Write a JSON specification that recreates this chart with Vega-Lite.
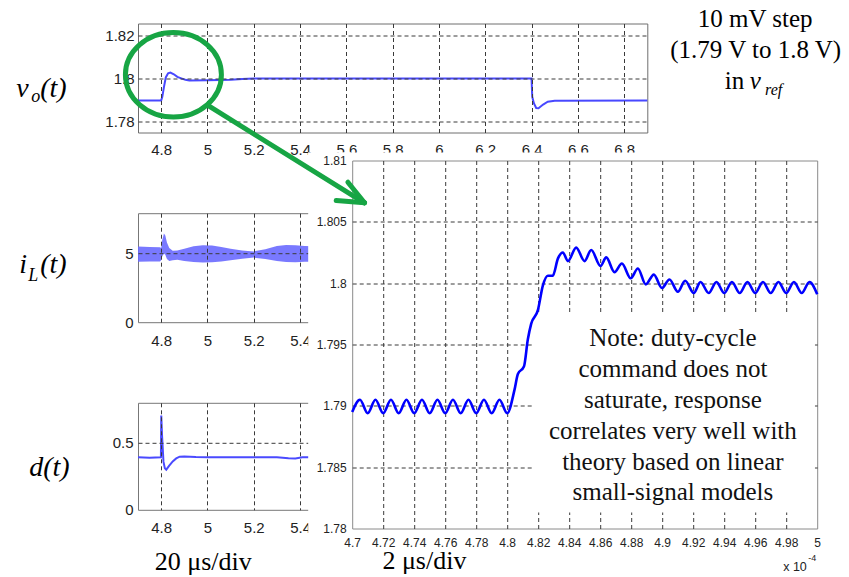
{
"$schema": "https://vega.github.io/schema/vega-lite/v6.json",
"padding": {"left": 15, "top": 6.5, "right": 0, "bottom": 0},
"autosize": {"type": "pad"},
"background": "white",
"config": {
  "view": {"stroke": "#777777", "strokeWidth": 1},
  "axis": {"labelFont": "Liberation Sans", "labelColor": "#222222", "gridColor": "#3a3a3a", "gridDash": [4, 3], "gridWidth": 1, "gridOpacity": 1, "labelFlush": false, "labelOverlap": false, "ticks": false, "domain": false}
},
"datasets": {
  "vo": [
    {"t":4.70,"v":1.7898},{"t":4.80,"v":1.7898},{"t":4.805,"v":1.7915},{"t":4.812,"v":1.7960},{"t":4.820,"v":1.8005},{"t":4.830,"v":1.8024},{"t":4.840,"v":1.8028},{"t":4.855,"v":1.8020},{"t":4.870,"v":1.8008},{"t":4.887,"v":1.8001},{"t":4.905,"v":1.7994},{"t":4.922,"v":1.7991},{"t":5.000,"v":1.7992},{"t":5.100,"v":1.7994},{"t":5.150,"v":1.7998},{"t":5.200,"v":1.8000},{"t":6.400,"v":1.8000},{"t":6.403,"v":1.7915},{"t":6.410,"v":1.7885},{"t":6.420,"v":1.7863},{"t":6.430,"v":1.7862},{"t":6.450,"v":1.7879},{"t":6.470,"v":1.7892},{"t":6.500,"v":1.7897},{"t":6.900,"v":1.7898}
  ],
  "il": [
    {"t":4.700,"lo":4.40,"hi":5.50},{"t":4.750,"lo":4.42,"hi":5.48},{"t":4.795,"lo":4.42,"hi":5.45},{"t":4.800,"lo":4.50,"hi":5.40},{"t":4.805,"lo":4.80,"hi":6.00},{"t":4.812,"lo":5.00,"hi":6.45},{"t":4.818,"lo":4.90,"hi":6.30},{"t":4.825,"lo":4.60,"hi":5.80},{"t":4.835,"lo":4.45,"hi":5.40},{"t":4.850,"lo":4.50,"hi":5.20},{"t":4.870,"lo":4.55,"hi":5.22},{"t":4.900,"lo":4.45,"hi":5.35},{"t":4.940,"lo":4.38,"hi":5.52},{"t":4.980,"lo":4.35,"hi":5.60},{"t":5.020,"lo":4.37,"hi":5.58},{"t":5.060,"lo":4.42,"hi":5.48},{"t":5.100,"lo":4.50,"hi":5.35},{"t":5.150,"lo":4.62,"hi":5.22},{"t":5.200,"lo":4.70,"hi":5.15},{"t":5.250,"lo":4.60,"hi":5.30},{"t":5.300,"lo":4.45,"hi":5.55},{"t":5.340,"lo":4.38,"hi":5.62},{"t":5.380,"lo":4.37,"hi":5.60},{"t":5.420,"lo":4.40,"hi":5.55},{"t":5.500,"lo":4.40,"hi":5.50}
  ],
  "dd": [
    {"t":4.700,"d":0.392},{"t":4.750,"d":0.390},{"t":4.799,"d":0.392},{"t":4.8005,"d":0.705},{"t":4.804,"d":0.55},{"t":4.810,"d":0.36},{"t":4.816,"d":0.31},{"t":4.822,"d":0.300},{"t":4.835,"d":0.330},{"t":4.850,"d":0.362},{"t":4.865,"d":0.384},{"t":4.880,"d":0.397},{"t":4.900,"d":0.398},{"t":4.950,"d":0.394},{"t":5.000,"d":0.392},{"t":5.100,"d":0.393},{"t":5.200,"d":0.392},{"t":5.300,"d":0.393},{"t":5.350,"d":0.386},{"t":5.380,"d":0.384},{"t":5.410,"d":0.392},{"t":5.500,"d":0.392}
  ],
  "vz": [
    {"t":4.700,"v":1.7895},{"t":4.705,"v":1.7905},{"t":4.710,"v":1.7894},{"t":4.715,"v":1.7905},{"t":4.720,"v":1.7894},{"t":4.725,"v":1.7905},{"t":4.730,"v":1.7894},{"t":4.735,"v":1.7905},{"t":4.740,"v":1.7894},{"t":4.745,"v":1.7905},{"t":4.750,"v":1.7894},{"t":4.755,"v":1.7905},{"t":4.760,"v":1.7894},{"t":4.765,"v":1.7905},{"t":4.770,"v":1.7894},{"t":4.775,"v":1.7905},{"t":4.780,"v":1.7894},{"t":4.785,"v":1.7905},{"t":4.790,"v":1.7894},{"t":4.795,"v":1.7905},{"t":4.800,"v":1.7894},
    {"t":4.8047,"v":1.7913},{"t":4.8069,"v":1.7926},{"t":4.8108,"v":1.7932},{"t":4.8133,"v":1.7954},{"t":4.8155,"v":1.7967},{"t":4.8198,"v":1.7978},{"t":4.8230,"v":1.7998},{"t":4.8262,"v":1.8006},{"t":4.8294,"v":1.8006},{"t":4.8327,"v":1.8020},{"t":4.8359,"v":1.8025},{"t":4.8392,"v":1.8018},{"t":4.8445,"v":1.8029},{"t":4.8499,"v":1.8018},{"t":4.8542,"v":1.8027},{"t":4.8602,"v":1.8014},{"t":4.8639,"v":1.8021},{"t":4.8692,"v":1.8009},{"t":4.8740,"v":1.8016},{"t":4.8797,"v":1.8004},{"t":4.8843,"v":1.8012},{"t":4.8894,"v":1.7999},{"t":4.8946,"v":1.8007},{"t":4.8998,"v":1.7996},{"t":4.9047,"v":1.8003},{"t":4.9101,"v":1.7993},{"t":4.9148,"v":1.8002},{"t":4.9204,"v":1.7992},{"t":4.9247,"v":1.8001},{"t":4.9300,"v":1.7992},{"t":4.9350,"v":1.8001},{"t":4.9400,"v":1.7992},{"t":4.9450,"v":1.8001},{"t":4.9500,"v":1.7992},{"t":4.9550,"v":1.8001},{"t":4.9600,"v":1.7992},{"t":4.9650,"v":1.8001},{"t":4.9700,"v":1.7992},{"t":4.9750,"v":1.8001},{"t":4.9800,"v":1.7992},{"t":4.9850,"v":1.8001},{"t":4.9900,"v":1.7992},{"t":4.9950,"v":1.8001},{"t":5.0000,"v":1.7991}
  ]
},
"vconcat": [
  {
    "width": 509.3, "height": 109,
    "view": {"stroke": "#6e6e6e"},
    "layer": [
      {"data": {"name": "vo"}, "mark": {"type": "line", "color": "#4848ff", "strokeWidth": 2},
       "encoding": {
         "x": {"field": "t", "type": "quantitative", "scale": {"domain": [4.7, 6.9], "nice": false, "zero": false},
               "axis": {"orient": "bottom", "values": [4.8, 5, 5.2, 5.4, 5.6, 5.8, 6, 6.2, 6.4, 6.6, 6.8], "format": ".1~f", "title": null, "grid": true, "labelFontSize": 15, "labelPadding": 10, "zindex": 1}},
         "y": {"field": "v", "type": "quantitative", "scale": {"domain": [1.7749, 1.8256], "nice": false, "zero": false},
               "axis": {"orient": "left", "values": [1.78, 1.8, 1.82], "format": ".2~f", "title": null, "grid": true, "labelFontSize": 15, "labelPadding": 4, "zindex": 1}}
       }},
      {"data": {"values": [{"t": 4.1739, "v": 1.79163, "s": "v"}, {"t": 4.2775, "v": 1.79163, "s": "(t)"}]},
       "mark": {"type": "text", "font": "Liberation Serif", "fontStyle": "italic", "fontSize": 28, "align": "left", "baseline": "alphabetic", "color": "black"},
       "encoding": {"x": {"field": "t", "type": "quantitative", "axis": null, "scale": {"domain": [4.7, 6.9], "nice": false, "zero": false}}, "y": {"field": "v", "type": "quantitative", "axis": null, "scale": {"domain": [1.7749, 1.8256], "nice": false, "zero": false}}, "text": {"field": "s"}}},
      {"data": {"values": [{"t": 4.2387, "v": 1.7893, "s": "o"}]},
       "mark": {"type": "text", "font": "Liberation Serif", "fontStyle": "italic", "fontSize": 18, "align": "left", "baseline": "alphabetic", "color": "black"},
       "encoding": {"x": {"field": "t", "type": "quantitative", "axis": null, "scale": {"domain": [4.7, 6.9], "nice": false, "zero": false}}, "y": {"field": "v", "type": "quantitative", "axis": null, "scale": {"domain": [1.7749, 1.8256], "nice": false, "zero": false}}, "text": {"field": "s"}}},
      {"data": {"values": [{"t": 7.3661, "v": 1.82395, "s": "10 mV step"}, {"t": 7.3683, "v": 1.80977, "s": "(1.79 V to 1.8 V)"}, {"t": 7.2763, "v": 1.79512, "s": "in"}]},
       "mark": {"type": "text", "font": "Liberation Serif", "fontSize": 25, "align": "center", "baseline": "alphabetic", "color": "black"},
       "encoding": {"x": {"field": "t", "type": "quantitative", "axis": null, "scale": {"domain": [4.7, 6.9], "nice": false, "zero": false}}, "y": {"field": "v", "type": "quantitative", "axis": null, "scale": {"domain": [1.7749, 1.8256], "nice": false, "zero": false}}, "text": {"field": "s"}}},
      {"data": {"values": [{"t": 7.3662, "v": 1.79512, "s": "v"}]},
       "mark": {"type": "text", "font": "Liberation Serif", "fontStyle": "italic", "fontSize": 25, "align": "center", "baseline": "alphabetic", "color": "black"},
       "encoding": {"x": {"field": "t", "type": "quantitative", "axis": null, "scale": {"domain": [4.7, 6.9], "nice": false, "zero": false}}, "y": {"field": "v", "type": "quantitative", "axis": null, "scale": {"domain": [1.7749, 1.8256], "nice": false, "zero": false}}, "text": {"field": "s"}}},
      {"data": {"values": [{"t": 7.4460, "v": 1.79256, "s": "ref"}]},
       "mark": {"type": "text", "font": "Liberation Serif", "fontStyle": "italic", "fontSize": 16, "align": "center", "baseline": "alphabetic", "color": "black"},
       "encoding": {"x": {"field": "t", "type": "quantitative", "axis": null, "scale": {"domain": [4.7, 6.9], "nice": false, "zero": false}}, "y": {"field": "v", "type": "quantitative", "axis": null, "scale": {"domain": [1.7749, 1.8256], "nice": false, "zero": false}}, "text": {"field": "s"}}}
    ],
    "resolve": {"axis": {"x": "independent", "y": "independent"}}
  },
  {
    "hconcat": [
      {
        "vconcat": [
          {"width": 185.2, "height": 1, "view": {"stroke": null}, "data": {"values": []}, "mark": "point"},
          {
            "vconcat": [
              {
                "width": 185.2, "height": 109,
                "layer": [
                  {"data": {"name": "il"}, "mark": {"type": "area", "color": "#6a6aff", "opacity": 0.9},
                   "encoding": {
                     "x": {"field": "t", "type": "quantitative", "scale": {"domain": [4.7, 5.5], "nice": false, "zero": false},
                           "axis": {"orient": "bottom", "values": [4.8, 5, 5.2, 5.4], "format": ".1~f", "title": null, "grid": true, "labelFontSize": 15, "labelPadding": 11, "zindex": 1}},
                     "y": {"field": "lo", "type": "quantitative", "scale": {"domain": [0, 7.93], "nice": false, "zero": false},
                           "axis": {"orient": "left", "values": [0, 5], "format": "d", "title": null, "grid": true, "gridColor": {"condition": {"test": "datum.value == 0", "value": "transparent"}, "value": "#3a3a3a"}, "labelFontSize": 15, "labelPadding": 5, "zindex": 1}},
                     "y2": {"field": "hi"}
                   }},
                  {"data": {"values": [{"t": 4.1868, "y": 3.544, "s": "i"}, {"t": 4.2775, "y": 3.544, "s": "(t)"}]},
                   "mark": {"type": "text", "font": "Liberation Serif", "fontStyle": "italic", "fontSize": 28, "align": "left", "baseline": "alphabetic", "color": "black"},
                   "encoding": {"x": {"field": "t", "type": "quantitative", "axis": null, "scale": {"domain": [4.7, 5.5], "nice": false, "zero": false}}, "y": {"field": "y", "type": "quantitative", "axis": null, "scale": {"domain": [0, 7.93], "nice": false, "zero": false}}, "text": {"field": "s"}}},
                  {"data": {"values": [{"t": 4.2257, "y": 2.962, "s": "L"}]},
                   "mark": {"type": "text", "font": "Liberation Serif", "fontStyle": "italic", "fontSize": 18, "align": "left", "baseline": "alphabetic", "color": "black"},
                   "encoding": {"x": {"field": "t", "type": "quantitative", "axis": null, "scale": {"domain": [4.7, 5.5], "nice": false, "zero": false}}, "y": {"field": "y", "type": "quantitative", "axis": null, "scale": {"domain": [0, 7.93], "nice": false, "zero": false}}, "text": {"field": "s"}}}
                ],
                "resolve": {"axis": {"x": "independent", "y": "independent"}}
              },
              {
                "width": 185.2, "height": 107,
                "layer": [
                  {"data": {"name": "dd"}, "mark": {"type": "line", "color": "#4a4aff", "strokeWidth": 2},
                   "encoding": {
                     "x": {"field": "t", "type": "quantitative", "scale": {"domain": [4.7, 5.5], "nice": false, "zero": false},
                           "axis": {"orient": "bottom", "values": [4.8, 5, 5.2, 5.4], "format": ".1~f", "title": null, "grid": true, "labelFontSize": 15, "labelPadding": 11, "zindex": 1}},
                     "y": {"field": "d", "type": "quantitative", "scale": {"domain": [0, 0.8], "nice": false, "zero": false},
                           "axis": {"orient": "left", "values": [0, 0.5], "format": ".1~f", "title": null, "grid": true, "gridColor": {"condition": {"test": "datum.value == 0", "value": "transparent"}, "value": "#3a3a3a"}, "labelFontSize": 15, "labelPadding": 5, "zindex": 1}}
                   }},
                  {"data": {"values": [{"t": 4.23, "y": 0.2564, "s": "d(t)"}]},
                   "mark": {"type": "text", "font": "Liberation Serif", "fontStyle": "italic", "fontSize": 28, "align": "left", "baseline": "alphabetic", "color": "black"},
                   "encoding": {"x": {"field": "t", "type": "quantitative", "axis": null, "scale": {"domain": [4.7, 5.5], "nice": false, "zero": false}}, "y": {"field": "y", "type": "quantitative", "axis": null, "scale": {"domain": [0, 0.8], "nice": false, "zero": false}}, "text": {"field": "s"}}},
                  {"data": {"values": [{"t": 4.9816, "y": -0.4464, "s": "20 μs/div"}]},
                   "mark": {"type": "text", "font": "Liberation Serif", "fontSize": 26, "align": "center", "baseline": "alphabetic", "color": "black"},
                   "encoding": {"x": {"field": "t", "type": "quantitative", "axis": null, "scale": {"domain": [4.7, 5.5], "nice": false, "zero": false}}, "y": {"field": "y", "type": "quantitative", "axis": null, "scale": {"domain": [0, 0.8], "nice": false, "zero": false}}, "text": {"field": "s"}}}
                ],
                "resolve": {"axis": {"x": "independent", "y": "independent"}}
              }
            ],
            "spacing": 80.6, "bounds": "flush"
          }
        ],
        "spacing": 51.7, "bounds": "flush"
      },
      {
        "width": 465, "height": 368,
        "view": {"stroke": "#8a8a8a"},
        "layer": [
          {"data": {"values": [{"x1": 4.6716, "x2": 5.0, "y1": 1.8101, "y2": 1.81065}, {"x1": 4.6716, "x2": 4.6995, "y1": 1.7763, "y2": 1.81065}]},
           "mark": {"type": "rect", "color": "white"},
           "encoding": {
             "x": {"field": "x1", "type": "quantitative", "scale": {"domain": [4.7, 5.0], "nice": false, "zero": false},
                   "axis": {"orient": "bottom", "values": [4.72, 4.74, 4.76, 4.78, 4.8, 4.82, 4.84, 4.86, 4.88, 4.9, 4.92, 4.94, 4.96, 4.98], "grid": true, "labels": false, "title": null, "zindex": 0}},
             "x2": {"field": "x2"},
             "y": {"field": "y1", "type": "quantitative", "scale": {"domain": [1.78, 1.81], "nice": false, "zero": false},
                   "axis": {"orient": "left", "values": [1.785, 1.79, 1.795, 1.8, 1.805], "grid": true, "labels": false, "title": null, "zindex": 0}},
             "y2": {"field": "y2"}
           }},
          {"data": {"values": [{"x1": 4.8168, "x2": 4.9985, "y1": 1.7813, "y2": 1.79747}]},
           "mark": {"type": "rect", "color": "white"},
           "encoding": {
             "x": {"field": "x1", "type": "quantitative", "axis": null, "scale": {"domain": [4.7, 5.0], "nice": false, "zero": false}},
             "x2": {"field": "x2"},
             "y": {"field": "y1", "type": "quantitative", "axis": null, "scale": {"domain": [1.78, 1.81], "nice": false, "zero": false}},
             "y2": {"field": "y2"}
           }},
          {"data": {"name": "vz"}, "mark": {"type": "line", "color": "#0000ff", "strokeWidth": 2.6, "interpolate": "monotone"},
           "encoding": {
             "x": {"field": "t", "type": "quantitative", "scale": {"domain": [4.7, 5.0], "nice": false, "zero": false},
                   "axis": {"orient": "bottom", "values": [4.7, 4.72, 4.74, 4.76, 4.78, 4.8, 4.82, 4.84, 4.86, 4.88, 4.9, 4.92, 4.94, 4.96, 4.98, 5], "format": ".2~f", "grid": false, "title": null, "labelFontSize": 12, "labelPadding": 8.5, "zindex": 1}},
             "y": {"field": "v", "type": "quantitative", "scale": {"domain": [1.78, 1.81], "nice": false, "zero": false},
                   "axis": {"orient": "left", "values": [1.78, 1.785, 1.79, 1.795, 1.8, 1.805, 1.81], "format": ".3~f", "grid": false, "title": null, "labelFontSize": 12, "labelPadding": 6, "zindex": 1}}
           }},
          {"data": {"values": [{"t": 4.9069, "y": 1.794837, "s": "Note: duty-cycle\ncommand does not\nsaturate, response\ncorrelates very well with\ntheory based on linear\nsmall-signal models"}]},
           "mark": {"type": "text", "font": "Liberation Serif", "fontSize": 25, "align": "center", "baseline": "alphabetic", "lineBreak": "\n", "lineHeight": 30.8, "color": "#111111"},
           "encoding": {"x": {"field": "t", "type": "quantitative", "axis": null, "scale": {"domain": [4.7, 5.0], "nice": false, "zero": false}}, "y": {"field": "y", "type": "quantitative", "axis": null, "scale": {"domain": [1.78, 1.81], "nice": false, "zero": false}}, "text": {"field": "s"}}},
          {"data": {"values": [{"t": 4.7466, "y": 1.77666, "s": "2 μs/div"}]},
           "mark": {"type": "text", "font": "Liberation Serif", "fontSize": 26, "align": "center", "baseline": "alphabetic", "color": "black"},
           "encoding": {"x": {"field": "t", "type": "quantitative", "axis": null, "scale": {"domain": [4.7, 5.0], "nice": false, "zero": false}}, "y": {"field": "y", "type": "quantitative", "axis": null, "scale": {"domain": [1.78, 1.81], "nice": false, "zero": false}}, "text": {"field": "s"}}},
          {"data": {"values": [{"t": 4.97806, "y": 1.776495, "s": "x 10"}]},
           "mark": {"type": "text", "font": "Liberation Sans", "fontSize": 12.5, "align": "left", "baseline": "alphabetic", "color": "#222222"},
           "encoding": {"x": {"field": "t", "type": "quantitative", "axis": null, "scale": {"domain": [4.7, 5.0], "nice": false, "zero": false}}, "y": {"field": "y", "type": "quantitative", "axis": null, "scale": {"domain": [1.78, 1.81], "nice": false, "zero": false}}, "text": {"field": "s"}}},
          {"data": {"values": [{"t": 4.99419, "y": 1.77731, "s": "-4"}]},
           "mark": {"type": "text", "font": "Liberation Sans", "fontSize": 9, "align": "left", "baseline": "alphabetic", "color": "#222222"},
           "encoding": {"x": {"field": "t", "type": "quantitative", "axis": null, "scale": {"domain": [4.7, 5.0], "nice": false, "zero": false}}, "y": {"field": "y", "type": "quantitative", "axis": null, "scale": {"domain": [1.78, 1.81], "nice": false, "zero": false}}, "text": {"field": "s"}}},
          {"data": {"values": [{"t": 4.58465, "y": 1.816995}]},
           "mark": {"type": "point", "shape": "M -1 0 A 1 0.88 0 1 0 1 0 A 1 0.88 0 1 0 -1 0 Z", "size": 9216, "filled": false, "stroke": "#17a544", "strokeWidth": 5, "opacity": 1},
           "encoding": {"x": {"field": "t", "type": "quantitative", "axis": null, "scale": {"domain": [4.7, 5.0], "nice": false, "zero": false}}, "y": {"field": "y", "type": "quantitative", "axis": null, "scale": {"domain": [1.78, 1.81], "nice": false, "zero": false}}}},
          {"data": {"values": [
              {"seg": "shaft", "t": 4.6069, "y": 1.814484}, {"seg": "shaft", "t": 4.70794, "y": 1.806552},
              {"seg": "barb1", "t": 4.69723, "y": 1.808231}, {"seg": "barb1", "t": 4.70794, "y": 1.806552},
              {"seg": "barb2", "t": 4.68968, "y": 1.806739}, {"seg": "barb2", "t": 4.70794, "y": 1.806552}
            ]},
           "mark": {"type": "line", "color": "#17a544", "strokeWidth": 5, "strokeCap": "round"},
           "encoding": {"x": {"field": "t", "type": "quantitative", "axis": null, "scale": {"domain": [4.7, 5.0], "nice": false, "zero": false}}, "y": {"field": "y", "type": "quantitative", "axis": null, "scale": {"domain": [1.78, 1.81], "nice": false, "zero": false}}, "detail": {"field": "seg"}}}
        ],
        "resolve": {"axis": {"x": "independent", "y": "independent"}}
      }
    ],
    "spacing": 214.2, "bounds": "flush"
  }
],
"spacing": 28,
"bounds": "flush"
}
